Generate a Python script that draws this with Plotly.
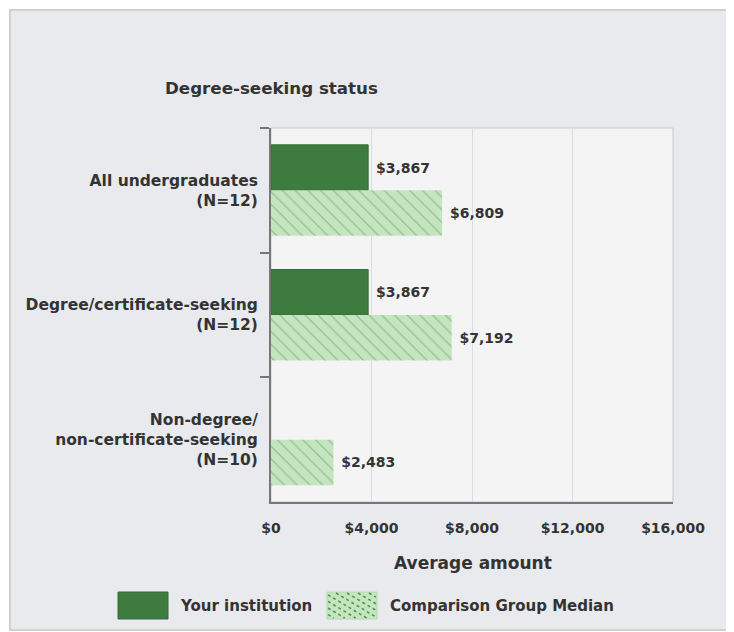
import plotly.graph_objects as go

# ---------------- data ----------------
categories = [
    "All undergraduates<br>(N=12)",
    "Degree/certificate-seeking<br>(N=12)",
    "Non-degree/<br>non-certificate-seeking<br>(N=10)",
]
your_institution = [3867, 3867, None]
comparison_median = [6809, 7192, 2483]
x_ticks = [0, 4000, 8000, 12000, 16000]
x_tick_labels = ["$" + f"{v:,}" for v in x_ticks]
series_names = ["Your institution", "Comparison Group Median"]
chart_title = "Degree-seeking status"
x_title = "Average amount"

# ---------------- geometry helpers ----------------
OFF = 8  # page body margin
W, H = 726, 624
L, T = 271 - OFF, 128 - OFF
R = W - (673 - OFF)
B = H - (502 - OFF)
PW, PH = W - L - R, H - T - B


def px(x):  # screenshot x -> paper
    return (x - OFF - L) / PW


def py(y):  # screenshot y -> paper
    return (H - B - (y - OFF)) / PH


DARK = "#3e7b3e"
DARK_LINE = "#356d36"
LIGHT = "#c5e5c1"
HATCH = "#5e9e59"
TXT = "#333333"
FAM = "DejaVu Sans"

fig = go.Figure()
fig.add_trace(go.Bar(
    y=categories, x=your_institution, orientation="h", name=series_names[0],
    marker=dict(color=DARK, line=dict(color=DARK_LINE, width=1)),
    texttemplate=" $%{x:,.0f}", textposition="outside",
    textfont=dict(family=FAM, size=14, color=TXT, weight="bold"),
    cliponaxis=False, showlegend=False,
))
fig.add_trace(go.Bar(
    y=categories, x=comparison_median, orientation="h", name=series_names[1],
    marker=dict(color=LIGHT, line=dict(width=0),
                pattern=dict(shape="\\", fgcolor=HATCH, bgcolor=LIGHT,
                             size=9, solidity=0.14)),
    texttemplate=" $%{x:,.0f}", textposition="outside",
    textfont=dict(family=FAM, size=14, color=TXT, weight="bold"),
    cliponaxis=False, showlegend=False,
))

shapes = []
# outer panel
shapes.append(dict(type="rect", xref="paper", yref="paper",
                   x0=px(10), x1=px(730), y0=py(630), y1=py(10),
                   fillcolor="#e9eaee", line=dict(color="#d0d0d0", width=2),
                   layer="below"))
# plot area
shapes.append(dict(type="rect", xref="x domain", yref="y domain",
                   x0=0, x1=1, y0=0, y1=1,
                   fillcolor="#f4f4f4", line=dict(color="#c8c8c8", width=1),
                   layer="below"))


def rect_px(x0, y0, x1, y1, fill, line):
    return dict(type="rect", xref="paper", yref="paper",
                x0=px(x0), x1=px(x1), y0=py(y1), y1=py(y0),
                fillcolor=fill, line=dict(color=line, width=1), layer="above")


# custom legend symbols
shapes.append(rect_px(118, 592, 168, 619, DARK, DARK_LINE))
shapes.append(rect_px(327, 592, 377, 619, LIGHT, "#b8d8b4"))

# dotted hatch in legend symbol 2
bx0, by0, bx1, by1 = 328, 593, 376, 618
slope = 0.6
for c in range(bx0 - 80, bx1 + 10, 11):
    xa = max(bx0, c)
    xb = min(bx1, c + (by1 - by0) / slope)
    if xb <= xa:
        continue
    ya = by0 + slope * (xa - c)
    yb = by0 + slope * (xb - c)
    shapes.append(dict(type="line", xref="paper", yref="paper",
                       x0=px(xa), y0=py(ya), x1=px(xb), y1=py(yb),
                       line=dict(color="#4f904b", width=1.5, dash="dot"),
                       layer="above"))

annotations = [
    dict(text=chart_title, xref="paper", yref="paper", x=px(271.5), y=py(88.5),
         xanchor="center", yanchor="middle", showarrow=False,
         font=dict(family=FAM, size=16.7, color=TXT, weight="bold")),
    dict(text=x_title, xref="paper", yref="paper", x=px(473), y=py(563),
         xanchor="center", yanchor="middle", showarrow=False,
         font=dict(family=FAM, size=17, color=TXT, weight="bold")),
    dict(text=series_names[0], xref="paper", yref="paper", x=px(178), y=py(605.5),
         xanchor="left", yanchor="middle", showarrow=False,
         font=dict(family=FAM, size=15, color=TXT, weight="bold")),
    dict(text=series_names[1], xref="paper", yref="paper", x=px(388), y=py(605.5),
         xanchor="left", yanchor="middle", showarrow=False,
         font=dict(family=FAM, size=15, color=TXT, weight="bold")),
]

fig.update_layout(
    width=W, height=H,
    margin=dict(l=L, r=R, t=T, b=B, pad=0),
    paper_bgcolor="white",
    plot_bgcolor="#f4f4f4",
    barmode="group", bargap=0.27, bargroupgap=0,
    showlegend=False,
    shapes=shapes, annotations=annotations,
    xaxis=dict(range=[0, 16000], tickmode="array", tickvals=x_ticks,
               ticktext=x_tick_labels,
               showgrid=True, gridcolor="#d6dcea", gridwidth=1, zeroline=False,
               showline=True, linecolor="#777777", linewidth=2,
               ticks="", ticklabelstandoff=12,
               tickfont=dict(family=FAM, size=14, color=TXT, weight="bold"),
               fixedrange=True),
    yaxis=dict(autorange="reversed", showgrid=False, zeroline=False,
               showline=True, linecolor="#777777", linewidth=2,
               ticks="outside", tickson="boundaries", ticklen=9,
               tickcolor="#777777", tickwidth=2, ticklabelstandoff=8,
               tickfont=dict(family=FAM, size=15.5, color=TXT, weight="bold"),
               fixedrange=True),
)

fig.write_html("out.html")
